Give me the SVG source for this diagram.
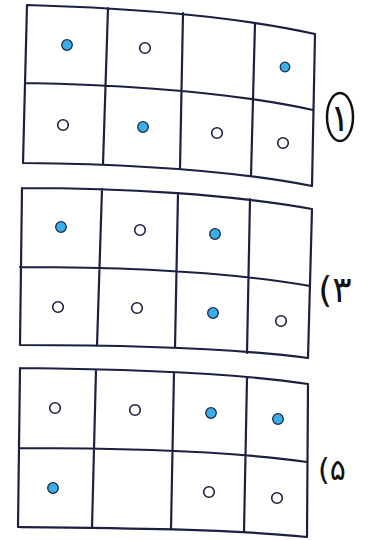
<svg xmlns="http://www.w3.org/2000/svg" width="370" height="540" viewBox="0 0 370 540">
<style>
.ln{fill:none;stroke:#1b2040;stroke-width:2.2;stroke-linecap:round;stroke-linejoin:round}
.w{fill:#ffffff;stroke:#1b2040;stroke-width:1.6}
.b{fill:#3aaee6;stroke:#1b2a4a;stroke-width:1.3}
.lbl{font-family:"DejaVu Sans","Noto Sans",sans-serif;fill:#111;}
</style>
<rect width="370" height="540" fill="#ffffff"/>
<g id="grid1">
<path class="ln" d="M27,5 C130,8 230,15 315,34 M25,83 C130,85 230,92 313,110 M23,163 C130,164 230,170 312,186 M27,5 L23,163 M108,8 L103,164 M183,13 L180,168 M255,23 L251,176 M315,34 L312,186"/>
<circle class="b" cx="67" cy="45" r="5.3"/>
<circle class="w" cx="145" cy="48" r="5.3"/>
<circle class="b" cx="285" cy="67" r="4.8"/>
<circle class="w" cx="63" cy="125" r="5.3"/>
<circle class="b" cx="143" cy="127" r="5.3"/>
<circle class="w" cx="217" cy="133" r="5.3"/>
<circle class="w" cx="283" cy="143" r="5.3"/>
</g>
<g id="label1">
<ellipse cx="340" cy="117" rx="13" ry="24" fill="none" stroke="#111" stroke-width="2.5"/>
<text class="lbl" x="340" y="131" font-size="38" text-anchor="middle">۱</text>
</g>
<g id="grid2">
<path class="ln" d="M22,188 C120,188 230,194 312,209 M20,267 C120,267 230,272 310,286 M20,345 C120,345 230,348 308,358 M22,188 L20,345 M102,189 L97,346 M178,193 L175,348 M250,199 L247,353 M312,209 L308,358"/>
<circle class="b" cx="61" cy="227" r="5.3"/>
<circle class="w" cx="140" cy="230" r="5.3"/>
<circle class="b" cx="215" cy="234" r="5.3"/>
<circle class="w" cx="58" cy="307" r="5.3"/>
<circle class="w" cx="137" cy="308" r="5.3"/>
<circle class="b" cx="213" cy="313" r="5.3"/>
<circle class="w" cx="281" cy="321" r="5.3"/>
</g>
<g id="label3">
<text class="lbl" x="335" y="302" font-size="36" text-anchor="middle">(۳</text>
</g>
<g id="grid3">
<path class="ln" d="M20,368 C120,369 230,372 308,384 M20,448 C120,448 230,451 307,462 M18,527 C120,528 230,529 307,537 M20,368 L18,527 M96,370 L92,528 M174,372 L171,529 M247,378 L244,532 M308,384 L307,537"/>
<circle class="w" cx="55" cy="408" r="5.3"/>
<circle class="w" cx="135" cy="410" r="5.3"/>
<circle class="b" cx="211" cy="413" r="5.3"/>
<circle class="b" cx="278" cy="419" r="5.3"/>
<circle class="b" cx="53" cy="488" r="5.3"/>
<circle class="w" cx="209" cy="492" r="5.3"/>
<circle class="w" cx="277" cy="498" r="5.3"/>
</g>
<g id="label5">
<text class="lbl" x="332" y="480" font-size="30" text-anchor="middle">(۵</text>
</g>
</svg>
